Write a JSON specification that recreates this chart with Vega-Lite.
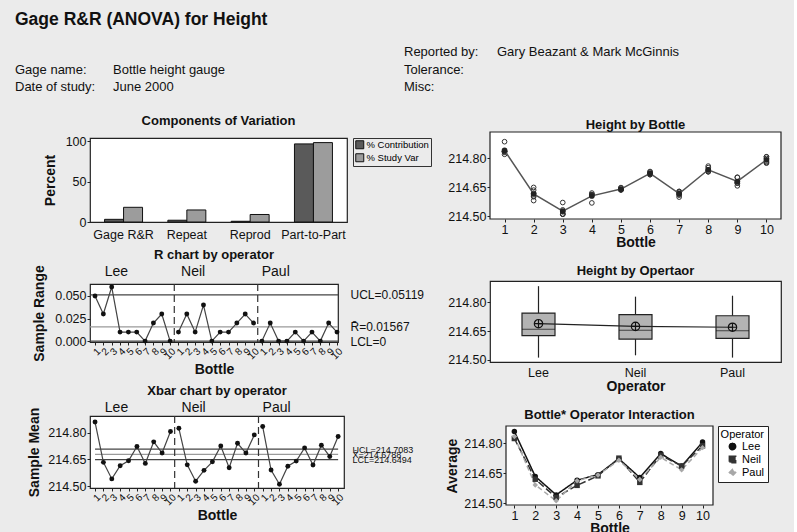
{
  "$schema": "https://vega.github.io/schema/vega-lite/v6.json",
  "background": "#ebebeb",
  "padding": {"left": 15, "top": 10, "right": 4, "bottom": 4},
  "config": {
    "font": "Liberation Sans",
    "view": {"stroke": "#222", "strokeWidth": 1.2, "fill": "white"},
    "axis": {"grid": false, "domain": false, "tickColor": "#222", "labelColor": "#111", "titleColor": "#111", "labelFontSize": 12.5, "titleFontSize": 14, "titleFontWeight": "bold", "tickSize": 3, "labelPadding": 1, "labelFont": "Liberation Sans", "titleFont": "Liberation Sans"},
    "title": {"fontSize": 13, "fontWeight": "bold", "color": "#111", "font": "Liberation Sans"},
    "legend": {"labelFont": "Liberation Sans", "titleFont": "Liberation Sans"}
  },
  "resolve": {"scale": {"color": "independent", "fill": "independent", "stroke": "independent", "shape": "independent", "strokeDash": "independent"}, "legend": {"color": "independent", "fill": "independent", "stroke": "independent", "shape": "independent", "strokeDash": "independent"}},
  "datasets": {
    "header": [
      {"block": "Study", "line": 2, "key": "Gage name:", "value": "Bottle height gauge"},
      {"block": "Study", "line": 3, "key": "Date of study:", "value": "June 2000"},
      {"block": "Report", "line": 1, "key": "Reported by:", "value": "Gary Beazant & Mark McGinnis"},
      {"block": "Report", "line": 2, "key": "Tolerance:", "value": ""},
      {"block": "Report", "line": 3, "key": "Misc:", "value": ""}
    ],
    "cov": [
      {"component": "Gage R&R", "measure": "% Contribution", "percent": 3.3},
      {"component": "Gage R&R", "measure": "% Study Var", "percent": 18.2},
      {"component": "Repeat", "measure": "% Contribution", "percent": 2.2},
      {"component": "Repeat", "measure": "% Study Var", "percent": 14.9},
      {"component": "Reprod", "measure": "% Contribution", "percent": 0.9},
      {"component": "Reprod", "measure": "% Study Var", "percent": 9.3},
      {"component": "Part-to-Part", "measure": "% Contribution", "percent": 96.7},
      {"component": "Part-to-Part", "measure": "% Study Var", "percent": 98.3}
    ],
    "rlimits": [
      {"limit": "UCL", "value": 0.05119},
      {"limit": "Rbar", "value": 0.01567},
      {"limit": "LCL", "value": 0}
    ],
    "xlimits": [
      {"limit": "UCL", "value": 214.7083},
      {"limit": "Xbar", "value": 214.6788},
      {"limit": "LCL", "value": 214.6494}
    ],
    "separators": [{"boundary": 10.5}, {"boundary": 20.5}],
    "frame": [{"panel": "frame"}],
    "subgroups": [
      {"operator": "Lee", "bottle": 1, "index": 1, "mean": 214.860, "range": 0.05},
      {"operator": "Lee", "bottle": 2, "index": 2, "mean": 214.634, "range": 0.03},
      {"operator": "Lee", "bottle": 3, "index": 3, "mean": 214.541, "range": 0.06},
      {"operator": "Lee", "bottle": 4, "index": 4, "mean": 214.615, "range": 0.01},
      {"operator": "Lee", "bottle": 5, "index": 5, "mean": 214.643, "range": 0.01},
      {"operator": "Lee", "bottle": 6, "index": 6, "mean": 214.723, "range": 0.01},
      {"operator": "Lee", "bottle": 7, "index": 7, "mean": 214.628, "range": 0.0},
      {"operator": "Lee", "bottle": 8, "index": 8, "mean": 214.749, "range": 0.02},
      {"operator": "Lee", "bottle": 9, "index": 9, "mean": 214.686, "range": 0.03},
      {"operator": "Lee", "bottle": 10, "index": 10, "mean": 214.807, "range": 0.0},
      {"operator": "Neil", "bottle": 1, "index": 11, "mean": 214.825, "range": 0.01},
      {"operator": "Neil", "bottle": 2, "index": 12, "mean": 214.620, "range": 0.03},
      {"operator": "Neil", "bottle": 3, "index": 13, "mean": 214.528, "range": 0.01},
      {"operator": "Neil", "bottle": 4, "index": 14, "mean": 214.589, "range": 0.04},
      {"operator": "Neil", "bottle": 5, "index": 15, "mean": 214.637, "range": 0.0},
      {"operator": "Neil", "bottle": 6, "index": 16, "mean": 214.726, "range": 0.01},
      {"operator": "Neil", "bottle": 7, "index": 17, "mean": 214.604, "range": 0.01},
      {"operator": "Neil", "bottle": 8, "index": 18, "mean": 214.741, "range": 0.02},
      {"operator": "Neil", "bottle": 9, "index": 19, "mean": 214.686, "range": 0.03},
      {"operator": "Neil", "bottle": 10, "index": 20, "mean": 214.788, "range": 0.02},
      {"operator": "Paul", "bottle": 1, "index": 21, "mean": 214.835, "range": 0.0},
      {"operator": "Paul", "bottle": 2, "index": 22, "mean": 214.591, "range": 0.02},
      {"operator": "Paul", "bottle": 3, "index": 23, "mean": 214.511, "range": 0.0},
      {"operator": "Paul", "bottle": 4, "index": 24, "mean": 214.612, "range": 0.0},
      {"operator": "Paul", "bottle": 5, "index": 25, "mean": 214.641, "range": 0.01},
      {"operator": "Paul", "bottle": 6, "index": 26, "mean": 214.715, "range": 0.0},
      {"operator": "Paul", "bottle": 7, "index": 27, "mean": 214.619, "range": 0.01},
      {"operator": "Paul", "bottle": 8, "index": 28, "mean": 214.730, "range": 0.0},
      {"operator": "Paul", "bottle": 9, "index": 29, "mean": 214.667, "range": 0.02},
      {"operator": "Paul", "bottle": 10, "index": 30, "mean": 214.779, "range": 0.01}
    ],
    "readings": [
      {"operator": "Lee", "bottle": 1, "height": 214.835}, {"operator": "Lee", "bottle": 1, "height": 214.885},
      {"operator": "Lee", "bottle": 2, "height": 214.619}, {"operator": "Lee", "bottle": 2, "height": 214.649},
      {"operator": "Lee", "bottle": 3, "height": 214.511}, {"operator": "Lee", "bottle": 3, "height": 214.571},
      {"operator": "Lee", "bottle": 4, "height": 214.610}, {"operator": "Lee", "bottle": 4, "height": 214.620},
      {"operator": "Lee", "bottle": 5, "height": 214.638}, {"operator": "Lee", "bottle": 5, "height": 214.648},
      {"operator": "Lee", "bottle": 6, "height": 214.718}, {"operator": "Lee", "bottle": 6, "height": 214.728},
      {"operator": "Lee", "bottle": 7, "height": 214.628}, {"operator": "Lee", "bottle": 7, "height": 214.628},
      {"operator": "Lee", "bottle": 8, "height": 214.739}, {"operator": "Lee", "bottle": 8, "height": 214.759},
      {"operator": "Lee", "bottle": 9, "height": 214.671}, {"operator": "Lee", "bottle": 9, "height": 214.701},
      {"operator": "Lee", "bottle": 10, "height": 214.807}, {"operator": "Lee", "bottle": 10, "height": 214.807},
      {"operator": "Neil", "bottle": 1, "height": 214.820}, {"operator": "Neil", "bottle": 1, "height": 214.830},
      {"operator": "Neil", "bottle": 2, "height": 214.605}, {"operator": "Neil", "bottle": 2, "height": 214.635},
      {"operator": "Neil", "bottle": 3, "height": 214.523}, {"operator": "Neil", "bottle": 3, "height": 214.533},
      {"operator": "Neil", "bottle": 4, "height": 214.569}, {"operator": "Neil", "bottle": 4, "height": 214.609},
      {"operator": "Neil", "bottle": 5, "height": 214.637}, {"operator": "Neil", "bottle": 5, "height": 214.637},
      {"operator": "Neil", "bottle": 6, "height": 214.721}, {"operator": "Neil", "bottle": 6, "height": 214.731},
      {"operator": "Neil", "bottle": 7, "height": 214.599}, {"operator": "Neil", "bottle": 7, "height": 214.609},
      {"operator": "Neil", "bottle": 8, "height": 214.731}, {"operator": "Neil", "bottle": 8, "height": 214.751},
      {"operator": "Neil", "bottle": 9, "height": 214.671}, {"operator": "Neil", "bottle": 9, "height": 214.701},
      {"operator": "Neil", "bottle": 10, "height": 214.778}, {"operator": "Neil", "bottle": 10, "height": 214.798},
      {"operator": "Paul", "bottle": 1, "height": 214.835}, {"operator": "Paul", "bottle": 1, "height": 214.835},
      {"operator": "Paul", "bottle": 2, "height": 214.581}, {"operator": "Paul", "bottle": 2, "height": 214.601},
      {"operator": "Paul", "bottle": 3, "height": 214.511}, {"operator": "Paul", "bottle": 3, "height": 214.511},
      {"operator": "Paul", "bottle": 4, "height": 214.612}, {"operator": "Paul", "bottle": 4, "height": 214.612},
      {"operator": "Paul", "bottle": 5, "height": 214.636}, {"operator": "Paul", "bottle": 5, "height": 214.646},
      {"operator": "Paul", "bottle": 6, "height": 214.715}, {"operator": "Paul", "bottle": 6, "height": 214.715},
      {"operator": "Paul", "bottle": 7, "height": 214.614}, {"operator": "Paul", "bottle": 7, "height": 214.624},
      {"operator": "Paul", "bottle": 8, "height": 214.730}, {"operator": "Paul", "bottle": 8, "height": 214.730},
      {"operator": "Paul", "bottle": 9, "height": 214.657}, {"operator": "Paul", "bottle": 9, "height": 214.677},
      {"operator": "Paul", "bottle": 10, "height": 214.774}, {"operator": "Paul", "bottle": 10, "height": 214.784}
    ]
  },
  "spacing": 8,
  "vconcat": [
    {
      "width": 700,
      "height": 66,
      "view": {"stroke": null, "fill": null},
      "title": {"text": "Gage R&R (ANOVA) for Height", "anchor": "start", "fontSize": 17.5, "fontWeight": "bold", "dx": 0, "offset": 12},
      "data": {"name": "header"},
      "layer": [
        {
          "mark": {"type": "text", "align": "left", "baseline": "middle", "fontSize": 13, "color": "#111"},
          "encoding": {
            "x": {"field": "block", "type": "nominal", "scale": {"domain": ["Study", "Report"], "range": [-75, 314], "padding": 0}, "axis": null},
            "y": {"field": "line", "type": "quantitative", "scale": {"domain": [1, 3], "range": [12, 47]}, "axis": null},
            "text": {"field": "key"}
          }
        },
        {
          "mark": {"type": "text", "align": "left", "baseline": "middle", "fontSize": 13, "color": "#111"},
          "encoding": {
            "x": {"field": "block", "type": "nominal", "scale": {"domain": ["Study", "Report"], "range": [23, 407], "padding": 0}, "axis": null},
            "y": {"field": "line", "type": "quantitative", "scale": {"domain": [1, 3], "range": [12, 47]}, "axis": null},
            "text": {"field": "value"}
          }
        }
      ],
      "resolve": {"scale": {"x": "independent"}}
    },
    {
      "spacing": 12,
      "resolve": {"scale": {"color": "independent", "fill": "independent", "stroke": "independent", "shape": "independent", "strokeDash": "independent"}, "legend": {"color": "independent", "fill": "independent", "stroke": "independent", "shape": "independent", "strokeDash": "independent"}},
      "hconcat": [
        {
          "spacing": 6,
          "resolve": {"scale": {"color": "independent", "fill": "independent", "stroke": "independent"}, "legend": {"color": "independent", "fill": "independent", "stroke": "independent"}},
          "vconcat": [
            {
              "width": 257,
              "height": 84,
              "title": {"text": "Components of Variation", "offset": 7},
              "data": {"name": "cov"},
              "mark": {"type": "bar", "stroke": "#111", "strokeWidth": 1},
              "encoding": {
                "x": {"field": "component", "type": "nominal", "sort": ["Gage R&R", "Repeat", "Reprod", "Part-to-Part"], "scale": {"paddingInner": 0.4, "paddingOuter": 0.23}, "axis": {"title": null, "labelAngle": 0, "ticks": false, "labelPadding": 6}},
                "xOffset": {"field": "measure", "type": "nominal", "sort": ["% Contribution", "% Study Var"]},
                "y": {"field": "percent", "type": "quantitative", "scale": {"domain": [0, 104], "nice": false}, "axis": {"values": [0, 50, 100], "title": "Percent", "titlePadding": 8}},
                "fill": {"field": "measure", "type": "nominal", "sort": ["% Contribution", "% Study Var"], "scale": {"domain": ["% Contribution", "% Study Var"], "range": ["#5a5a5a", "#9c9c9c"]}, "legend": {"title": null, "orient": "right", "offset": 6, "symbolType": "square", "symbolSize": 64, "symbolStrokeColor": "#111", "symbolStrokeWidth": 1, "labelFontSize": 9.5, "strokeColor": "#333", "padding": 2, "rowPadding": 0, "labelOffset": 2}}
              }
            },
            {
              "width": 248,
              "height": 58,
              "title": {"text": "R chart by operator", "offset": 2},
              "layer": [
                {
                  "data": {"name": "rlimits"},
                  "mark": {"type": "rule", "strokeWidth": 1.2},
                  "encoding": {
                    "y": {"field": "value", "type": "quantitative", "scale": {"domain": [-0.001, 0.0633], "nice": false, "zero": false}, "axis": {"orient": "right", "values": [0.05119, 0.01567, 0], "labelExpr": "datum.value > 0.04 ? 'UCL=0.05119' : datum.value > 0.01 ? 'R̄=0.01567' : 'LCL=0'", "ticks": false, "labelPadding": 12, "title": null, "labelOverlap": false, "labelFontSize": 12}},
                    "stroke": {"field": "limit", "type": "nominal", "scale": {"domain": ["UCL", "Rbar", "LCL"], "range": ["#444", "#9a9a9a", "#444"]}, "legend": null}
                  }
                },
                {
                  "data": {"name": "separators"},
                  "mark": {"type": "rule", "strokeDash": [7, 4], "color": "#333", "strokeWidth": 1.2},
                  "encoding": {
                    "x": {"field": "boundary", "type": "quantitative", "scale": {"domain": [0.4, 30.12], "nice": false, "zero": false}, "axis": {"orient": "top", "values": [3.5, 12.7, 22.6], "labelExpr": "datum.value < 8 ? 'Lee' : datum.value < 18 ? 'Neil' : 'Paul'", "ticks": false, "labelPadding": 6, "labelFontSize": 14, "title": null}}
                  }
                },
                {
                  "data": {"name": "subgroups"},
                  "mark": {"type": "line", "color": "#444", "strokeWidth": 1.2},
                  "encoding": {
                    "x": {"field": "index", "type": "quantitative", "scale": {"domain": [0.4, 30.12], "nice": false, "zero": false}, "axis": {"values": [1,2,3,4,5,6,7,8,9,10,11,12,13,14,15,16,17,18,19,20,21,22,23,24,25,26,27,28,29,30], "labelExpr": "(datum.value - 1) % 10 + 1", "labelAngle": -45, "labelFontSize": 10, "tickSize": 3, "title": "Bottle", "labelOverlap": false, "titlePadding": 2}},
                    "y": {"field": "range", "type": "quantitative", "scale": {"domain": [-0.001, 0.0633], "nice": false, "zero": false}, "axis": {"values": [0, 0.025, 0.05], "format": ".3f", "title": "Sample Range", "titlePadding": 8}},
                    "detail": {"field": "operator"}
                  }
                },
                {
                  "data": {"name": "subgroups"},
                  "mark": {"type": "point", "filled": true, "color": "#111", "size": 24, "opacity": 1},
                  "encoding": {
                    "x": {"field": "index", "type": "quantitative", "scale": {"domain": [0.4, 30.12], "nice": false, "zero": false}, "axis": null},
                    "y": {"field": "range", "type": "quantitative", "scale": {"domain": [-0.001, 0.0633], "nice": false, "zero": false}, "axis": null}
                  }
                }
              ],
              "resolve": {"axis": {"x": "independent", "y": "independent"}}
            },
            {
              "width": 254,
              "height": 72,
              "title": {"text": "Xbar chart by operator", "offset": 2},
              "layer": [
                {
                  "data": {"name": "xlimits"},
                  "mark": {"type": "rule", "strokeWidth": 1.2},
                  "encoding": {
                    "x": {"datum": 1, "type": "quantitative", "scale": {"domain": [0.4, 30.7], "nice": false, "zero": false}, "axis": null},
                    "x2": {"datum": 30},
                    "y": {"field": "value", "type": "quantitative", "scale": {"domain": [214.49, 214.894], "nice": false, "zero": false}, "axis": {"orient": "right", "values": [214.7083, 214.6788, 214.6494], "labelExpr": "datum.value > 214.7 ? 'UCL=214.7083' : datum.value > 214.66 ? 'X̄=214.6788' : 'LCL=214.6494'", "ticks": false, "labelPadding": 8, "title": null, "labelOverlap": false, "labelFontSize": 9}},
                    "stroke": {"field": "limit", "type": "nominal", "scale": {"domain": ["UCL", "Xbar", "LCL"], "range": ["#444", "#9a9a9a", "#444"]}, "legend": null}
                  }
                },
                {
                  "data": {"name": "separators"},
                  "mark": {"type": "rule", "strokeDash": [7, 4], "color": "#333", "strokeWidth": 1.2},
                  "encoding": {
                    "x": {"field": "boundary", "type": "quantitative", "scale": {"domain": [0.4, 30.7], "nice": false, "zero": false}, "axis": {"orient": "top", "values": [3.5, 12.7, 22.6], "labelExpr": "datum.value < 8 ? 'Lee' : datum.value < 18 ? 'Neil' : 'Paul'", "ticks": false, "labelPadding": 2, "labelFontSize": 14, "title": null}}
                  }
                },
                {
                  "data": {"name": "subgroups"},
                  "mark": {"type": "line", "color": "#444", "strokeWidth": 1.2},
                  "encoding": {
                    "x": {"field": "index", "type": "quantitative", "scale": {"domain": [0.4, 30.7], "nice": false, "zero": false}, "axis": {"values": [1,2,3,4,5,6,7,8,9,10,11,12,13,14,15,16,17,18,19,20,21,22,23,24,25,26,27,28,29,30], "labelExpr": "(datum.value - 1) % 10 + 1", "labelAngle": -45, "labelFontSize": 10, "tickSize": 3, "title": "Bottle", "labelOverlap": false, "titlePadding": 2}},
                    "y": {"field": "mean", "type": "quantitative", "scale": {"domain": [214.49, 214.894], "nice": false, "zero": false}, "axis": {"values": [214.5, 214.65, 214.8], "format": ".2f", "title": "Sample Mean", "titlePadding": 6}},
                    "detail": {"field": "operator"}
                  }
                },
                {
                  "data": {"name": "subgroups"},
                  "mark": {"type": "point", "filled": true, "color": "#111", "size": 24, "opacity": 1},
                  "encoding": {
                    "x": {"field": "index", "type": "quantitative", "scale": {"domain": [0.4, 30.7], "nice": false, "zero": false}, "axis": null},
                    "y": {"field": "mean", "type": "quantitative", "scale": {"domain": [214.49, 214.894], "nice": false, "zero": false}, "axis": null}
                  }
                }
              ],
              "resolve": {"axis": {"x": "independent", "y": "independent"}}
            }
          ]
        },
        {
          "spacing": 14,
          "resolve": {"scale": {"color": "independent", "fill": "independent", "stroke": "independent", "shape": "independent", "strokeDash": "independent"}, "legend": {"color": "independent", "fill": "independent", "stroke": "independent", "shape": "independent", "strokeDash": "independent"}},
          "vconcat": [
            {
              "width": 291,
              "height": 81,
              "view": {"stroke": null, "fill": null},
              "title": {"text": "Height by Bottle", "offset": -1},
              "layer": [
                {
                  "data": {"name": "frame"},
                  "mark": {"type": "rect", "fill": "white", "stroke": "#222", "strokeWidth": 1.2},
                  "encoding": {
                    "x": {"datum": 0.5, "type": "quantitative", "scale": {"domain": [0.5, 10.5], "nice": false, "zero": false}, "axis": {"values": [1,2,3,4,5,6,7,8,9,10], "title": "Bottle", "titlePadding": 0}},
                    "x2": {"datum": 10.5},
                    "y": {"datum": 214.486, "type": "quantitative", "scale": {"domain": [214.486, 214.935], "range": [81, -6], "nice": false, "zero": false}, "axis": {"values": [214.5, 214.65, 214.8], "format": ".2f", "title": null}},
                    "y2": {"datum": 214.935}
                  }
                },
                {
                  "data": {"name": "readings"},
                  "encoding": {
                    "x": {"field": "bottle", "type": "quantitative", "title": "Bottle", "scale": {"domain": [0.5, 10.5], "nice": false, "zero": false}, "axis": {"values": [1,2,3,4,5,6,7,8,9,10], "title": "Bottle", "titlePadding": 0}}
                  },
                  "layer": [
                    {
                      "mark": {"type": "point", "shape": "circle", "filled": false, "color": "#333", "size": 22, "strokeWidth": 1, "opacity": 1},
                      "encoding": {"y": {"field": "height", "type": "quantitative", "title": null, "scale": {"domain": [214.486, 214.935], "range": [81, -6], "nice": false, "zero": false}, "axis": {"values": [214.5, 214.65, 214.8], "format": ".2f", "title": null}}}
                    },
                    {
                      "mark": {"type": "line", "color": "#555", "strokeWidth": 1.5},
                      "encoding": {"y": {"aggregate": "mean", "field": "height", "type": "quantitative", "title": null}}
                    },
                    {
                      "mark": {"type": "point", "filled": true, "color": "#222", "size": 32, "opacity": 1},
                      "encoding": {"y": {"aggregate": "mean", "field": "height", "type": "quantitative", "title": null}}
                    }
                  ]
                }
              ]
            },
            {
              "width": 291,
              "height": 81,
              "title": {"text": "Height by Opertaor", "offset": 3},
              "data": {"name": "readings"},
              "encoding": {
                "x": {"field": "operator", "type": "nominal", "sort": ["Lee", "Neil", "Paul"], "scale": {"paddingInner": 0, "paddingOuter": 0}, "axis": {"title": "Operator", "labelAngle": 0, "ticks": false, "labelPadding": 4, "titlePadding": 1}}
              },
              "layer": [
                {
                  "mark": {"type": "boxplot", "extent": "min-max", "size": 33, "color": "#b3b3b3", "box": {"stroke": "#222", "strokeWidth": 1.2}, "median": {"color": "#111", "strokeWidth": 1.5}, "rule": {"color": "#222", "strokeWidth": 1.2}},
                  "encoding": {"y": {"field": "height", "type": "quantitative", "title": null, "scale": {"domain": [214.488, 214.912], "nice": false, "zero": false}, "axis": {"values": [214.5, 214.65, 214.8], "format": ".2f"}}}
                },
                {
                  "mark": {"type": "line", "color": "#222", "strokeWidth": 1.2},
                  "encoding": {"y": {"aggregate": "mean", "field": "height", "type": "quantitative", "title": null}}
                },
                {
                  "mark": {"type": "point", "shape": "M-1,0A1,1,0,1,1,1,0A1,1,0,1,1,-1,0ZM-1,0L1,0M0,-1L0,1", "filled": false, "color": "#111", "size": 70, "strokeWidth": 1.2, "opacity": 1},
                  "encoding": {"y": {"aggregate": "mean", "field": "height", "type": "quantitative", "title": null}}
                }
              ]
            },
            {
              "width": 223,
              "height": 79,
              "view": {"stroke": null, "fill": null},
              "title": {"text": "Bottle* Operator Interaction", "offset": 3, "dx": 8},
              "layer": [
                {
                  "data": {"name": "frame"},
                  "mark": {"type": "rect", "fill": "white", "stroke": "#222", "strokeWidth": 1.2},
                  "encoding": {
                    "x": {"datum": 0.6, "type": "quantitative", "scale": {"domain": [0.6, 10.5], "range": [16, 223], "nice": false, "zero": false}, "axis": {"values": [1,2,3,4,5,6,7,8,9,10], "title": "Bottle", "titlePadding": 0, "titleX": 119.5, "labelOverlap": false}},
                    "x2": {"datum": 10.5},
                    "y": {"datum": 214.49, "type": "quantitative", "scale": {"domain": [214.49, 214.888], "nice": false, "zero": false}, "axis": {"values": [214.5, 214.65, 214.8], "format": ".2f", "title": "Average", "titlePadding": 4, "offset": -16, "labelOverlap": false}},
                    "y2": {"datum": 214.888}
                  }
                },
                {
                  "data": {"name": "subgroups"},
                  "encoding": {
                    "x": {"field": "bottle", "type": "quantitative", "title": "Bottle", "scale": {"domain": [0.6, 10.5], "range": [16, 223], "nice": false, "zero": false}, "axis": {"values": [1,2,3,4,5,6,7,8,9,10], "title": "Bottle", "titlePadding": 0, "titleX": 119.5, "labelOverlap": false}},
                    "y": {"field": "mean", "type": "quantitative", "title": "Average", "scale": {"domain": [214.49, 214.888], "nice": false, "zero": false}, "axis": {"values": [214.5, 214.65, 214.8], "format": ".2f", "title": "Average", "titlePadding": 4, "offset": -16, "labelOverlap": false}},
                    "color": {"field": "operator", "type": "nominal", "title": "Operator", "scale": {"domain": ["Lee", "Neil", "Paul"], "range": ["#111", "#333", "#a8a8a8"]}, "legend": {"orient": "right", "offset": 5, "strokeColor": "#222", "fillColor": "white", "padding": 3, "titleFontWeight": "normal", "titleFontSize": 11, "labelFontSize": 11, "titleAnchor": "end", "rowPadding": 0, "titlePadding": 1, "symbolSize": 40}}
                  },
                  "layer": [
                    {
                      "mark": {"type": "line", "strokeWidth": 1.5},
                      "encoding": {"strokeDash": {"field": "operator", "type": "nominal", "scale": {"domain": ["Lee", "Neil", "Paul"], "range": [[1, 0], [7, 3], [5, 3]]}, "legend": null}}
                    },
                    {
                      "mark": {"type": "point", "filled": true, "size": 30, "opacity": 1},
                      "encoding": {"shape": {"field": "operator", "type": "nominal", "title": "Operator", "scale": {"domain": ["Lee", "Neil", "Paul"], "range": ["circle", "square", "diamond"]}}}
                    }
                  ]
                }
              ]
            }
          ]
        }
      ]
    }
  ]
}
